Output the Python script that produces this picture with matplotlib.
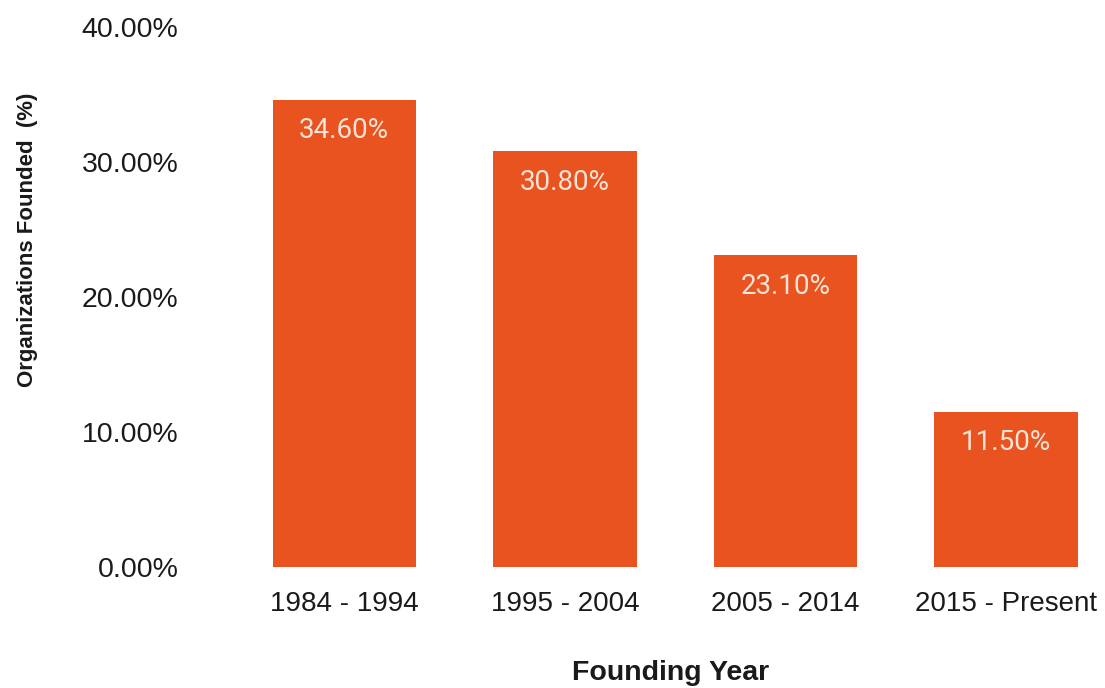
import matplotlib
matplotlib.use("Agg")
import matplotlib.pyplot as plt
from matplotlib.ticker import FuncFormatter

categories = ["1984 - 1994", "1995 - 2004", "2005 - 2014", "2015 - Present"]
values = [34.6, 30.8, 23.1, 11.5]
yticks = [0, 10, 20, 30, 40]

W, H = 1105, 688
fig = plt.figure(figsize=(W / 100, H / 100), dpi=100)
fig.patch.set_facecolor("#FFFFFF")
left, right, bottom, top = 234, 1100, 567, 27
ax = fig.add_axes([left / W, (H - bottom) / H, (right - left) / W, (bottom - top) / H])

bar_color = "#E8531F"
x = list(range(len(categories)))
bars = ax.bar(x, values, width=0.65, color=bar_color)
for b, v in zip(bars, values):
    ax.text(b.get_x() + b.get_width() / 2, v - 2.3, f"{v:.2f}%", ha="center", va="center",
            color="#FCE4D6", fontsize=20, family=["Roboto", "DejaVu Sans"])

ax.set_xlim(-0.5, (right - 344.5) / 220.5)
ax.set_ylim(0, 40)
ax.set_yticks(yticks)
ax.yaxis.set_major_formatter(FuncFormatter(lambda v, p: f"{v:.2f}%"))
ax.set_xticks(x)
ax.set_xticklabels(categories)
for s in ax.spines.values():
    s.set_visible(False)
ax.tick_params(axis="both", length=0, labelcolor="#1A1A1A")
ax.tick_params(axis="y", pad=40, labelsize=20.5)
ax.tick_params(axis="x", pad=17, labelsize=20)
for lab in ax.get_xticklabels() + ax.get_yticklabels():
    lab.set_family(["Liberation Sans", "DejaVu Sans"])

fig.text(28 / W, 1 - 240 / H, "Organizations Founded  (%)", rotation=90, ha="center", va="center",
         fontsize=16, fontweight="bold", family=["Liberation Sans", "DejaVu Sans"],
         color="#1A1A1A")
fig.text(671 / W, 1 - 673 / H, "Founding Year", ha="center", va="center",
         fontsize=20.5, fontweight="bold", family=["Liberation Sans", "DejaVu Sans"], color="#1A1A1A")

fig.savefig("out.png", dpi=100)
